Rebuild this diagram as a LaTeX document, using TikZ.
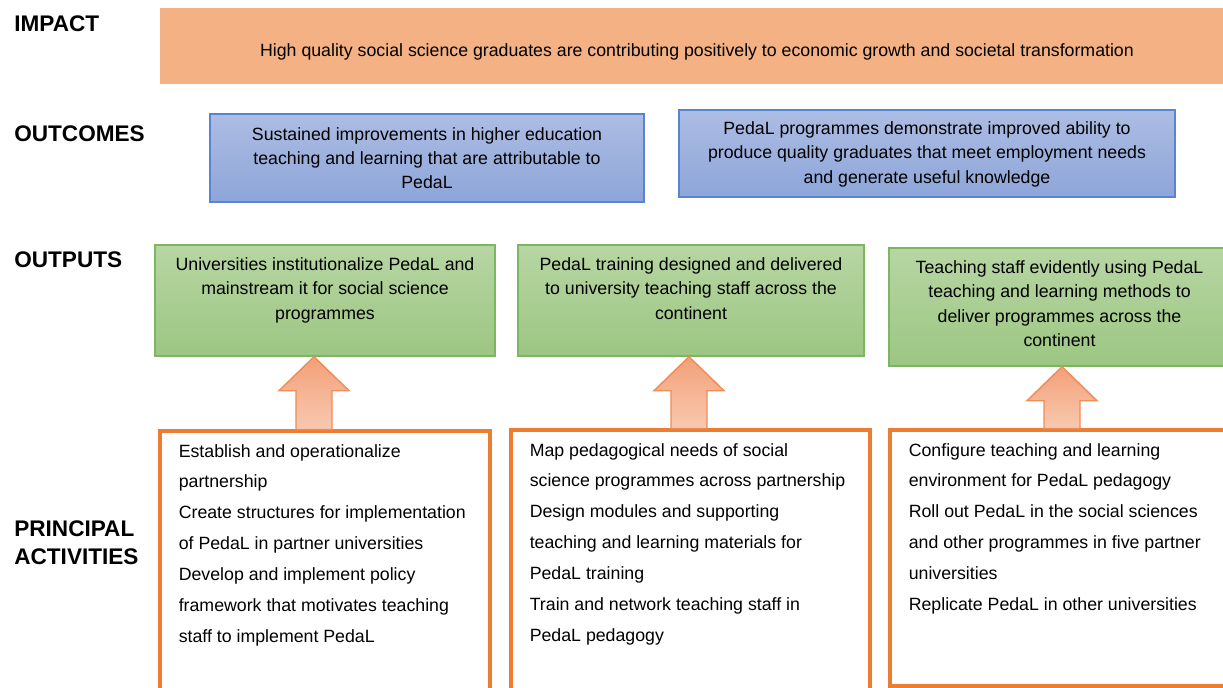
\documentclass[tikz,border=0pt]{standalone}
\usepackage{fontspec}
\setmainfont{Liberation Sans}
\usetikzlibrary{positioning,calc,fit}
\definecolor{impactFill}{HTML}{F4B183}
\definecolor{outcomeTop}{HTML}{ADBDE3}
\definecolor{outcomeBot}{HTML}{8DA5D9}
\definecolor{outcomeLine}{HTML}{5B84D0}
\definecolor{outputTop}{HTML}{B7D6A3}
\definecolor{outputBot}{HTML}{9CC682}
\definecolor{outputLine}{HTML}{7DB660}
\definecolor{arrowTop}{HTML}{F3A078}
\definecolor{arrowBot}{HTML}{F8C9B0}
\definecolor{arrowLine}{HTML}{F08C55}
\definecolor{actLine}{HTML}{ED7D31}
\tikzset{
  rowlabel/.style={font=\fontsize{14}{17.7}\selectfont\bfseries, align=left,
                   anchor=north west, inner sep=0pt},
  impact/.style={fill=impactFill, inner sep=0pt},
  outcome/.style={draw=outcomeLine, line width=0.9pt, top color=outcomeTop,
                  bottom color=outcomeBot, inner sep=0pt},
  output/.style={draw=outputLine, line width=0.9pt, top color=outputTop,
                 bottom color=outputBot, inner sep=0pt},
  activity/.style={draw=actLine, line width=1.9pt, fill=white, inner sep=0pt},
  boxtext/.style={font=\fontsize{11}{15.1}\selectfont, align=center, inner sep=0pt},
  acttext/.style={font=\fontsize{11}{19.2}\selectfont, align=left, inner sep=0pt},
  uparrow/.style={draw=arrowLine, line width=0.9pt, top color=arrowTop, bottom color=arrowBot},
}
% block arrow from the top of #1 up to the bottom of #2, on the axis of #3
\newcommand\liftarrow[3]{%
  \path[uparrow] ($(#1.north -| #3)+(-18,0)$) -- ($(#2.south -| #3)+(-18,34)$)
    -- ++(-17,0) -- (#2.south -| #3) -- ($(#2.south -| #3)+(35,34)$)
    -- ++(-17,0) -- ($(#1.north -| #3)+(18,0)$) -- cycle;}

\begin{document}
\begin{tikzpicture}[x=0.62pt, y=-0.62pt]
  \useasboundingbox (0,0) rectangle (1223,687);
  \clip (0,0) rectangle (1223,687);

  \node[rowlabel] (limp) at (14,15) {IMPACT};
  \node[rowlabel] (loc) at (14,125) {OUTCOMES};
  \node[rowlabel] (lop) at (14,251.7) {OUTPUTS};
  \node[rowlabel] (lact) at (14,520) {PRINCIPAL\\ACTIVITIES};

  \node[impact, fit={(160,8) (1234,84)}] (imp) {};
  \node[boxtext, below=21.9pt of imp.north] (impt)
    {High quality social science graduates are contributing positively to economic growth and societal transformation};

  \node[outcome, fit={(210,114) (644,202)}] (oc1) {};
  \node[outcome, fit={(679,110) (1175,197)}] (oc2) {};
  \node[boxtext, below=8.5pt of oc1.north] (oc1t)
    {Sustained improvements in higher education\\teaching and learning that are attributable to\\PedaL};
  \node[boxtext, below=7.5pt of oc2.north] (oc2t)
    {PedaL programmes demonstrate improved ability to\\produce quality graduates that meet employment needs\\and generate useful knowledge};

  \node[output, fit={(155,245) (495,356)}] (op1) {};
  \node[output, fit={(518,245) (864,356)}] (op2) {};
  \node[output, fit={(889,248) (1230,366)}] (op3) {};
  \node[boxtext, below=8pt of op1.north] (op1t)
    {Universities institutionalize PedaL and\\mainstream it for social science\\programmes};
  \node[boxtext, below=8pt of op2.north] (op2t)
    {PedaL training designed and delivered\\to university teaching staff across the\\continent};
  \node[boxtext, below=8pt of op3.north] (op3t)
    {Teaching staff evidently using PedaL\\teaching and learning methods to\\deliver programmes across the\\continent};

  \node[activity, fit={(160,431) (490,720)}] (act1) {};
  \node[activity, fit={(511,430) (870,720)}] (act2) {};
  \node[activity, fit={(890,430) (1240,686)}] (act3) {};
  \node[acttext, below right=8.9pt and 12.4pt of act1.north west] (act1t)
    {Establish and operationalize\\partnership\\Create structures for implementation\\of PedaL in partner universities\\Develop and implement policy\\framework that motivates teaching\\staff to implement PedaL};
  \node[acttext, below right=8.9pt and 12.4pt of act2.north west] (act2t)
    {Map pedagogical needs of social\\science programmes across partnership\\Design modules and supporting\\teaching and learning materials for\\PedaL training\\Train and network teaching staff in\\PedaL pedagogy};
  \node[acttext, below right=8.9pt and 12.4pt of act3.north west] (act3t)
    {Configure teaching and learning\\environment for PedaL pedagogy\\Roll out PedaL in the social sciences\\and other programmes in five partner\\universities\\Replicate PedaL in other universities};

  \coordinate (ax1) at (314,0);
  \coordinate (ax2) at (689,0);
  \coordinate (ax3) at (1062,0);
  \liftarrow{act1}{op1}{ax1}
  \liftarrow{act2}{op2}{ax2}
  \liftarrow{act3}{op3}{ax3}
\end{tikzpicture}
\end{document}
